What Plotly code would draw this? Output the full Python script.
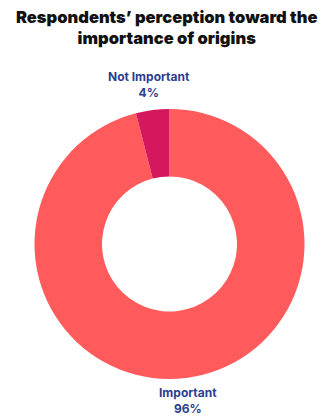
import plotly.graph_objects as go

# Survey result: share of respondents by perceived importance of origins
categories = ["Important", "Not Important"]
shares = [96, 4]
slice_colors = ["#FF5A5C", "#D5175D"]

title_text = "Respondents’ perception toward the<br>importance of origins"
label_color = "#2C3D8F"

fig = go.Figure(
    go.Pie(
        labels=categories,
        values=shares,
        hole=0.5,
        sort=False,
        direction="clockwise",
        rotation=0,
        marker=dict(colors=slice_colors, line=dict(width=0)),
        textinfo="none",
        showlegend=False,
        hoverinfo="label+percent",
    )
)

# category labels placed outside the ring, text built from the data
label_pos = {"Important": (0.568, -0.079), "Not Important": (0.426, 1.089)}
total = sum(shares)
for cat, val in zip(categories, shares):
    x, y = label_pos[cat]
    fig.add_annotation(
        text=f"{cat}<br>{round(100 * val / total)}%",
        x=x, y=y, xref="paper", yref="paper",
        xanchor="center", yanchor="middle",
        showarrow=False, align="center",
        font=dict(family="Inter", size=12, color=label_color, weight=700),
    )

fig.add_annotation(
    text=title_text,
    x=0.49, y=1.385, xref="paper", yref="paper",
    xanchor="center", yanchor="top",
    showarrow=False, align="center",
    font=dict(family="Inter", size=16.5, color="#111111", weight=900),
)

fig.update_layout(
    width=331,
    height=417,
    paper_bgcolor="white",
    plot_bgcolor="white",
    margin=dict(l=34, r=26, t=109, b=38),
)

fig.write_html("out.html")
